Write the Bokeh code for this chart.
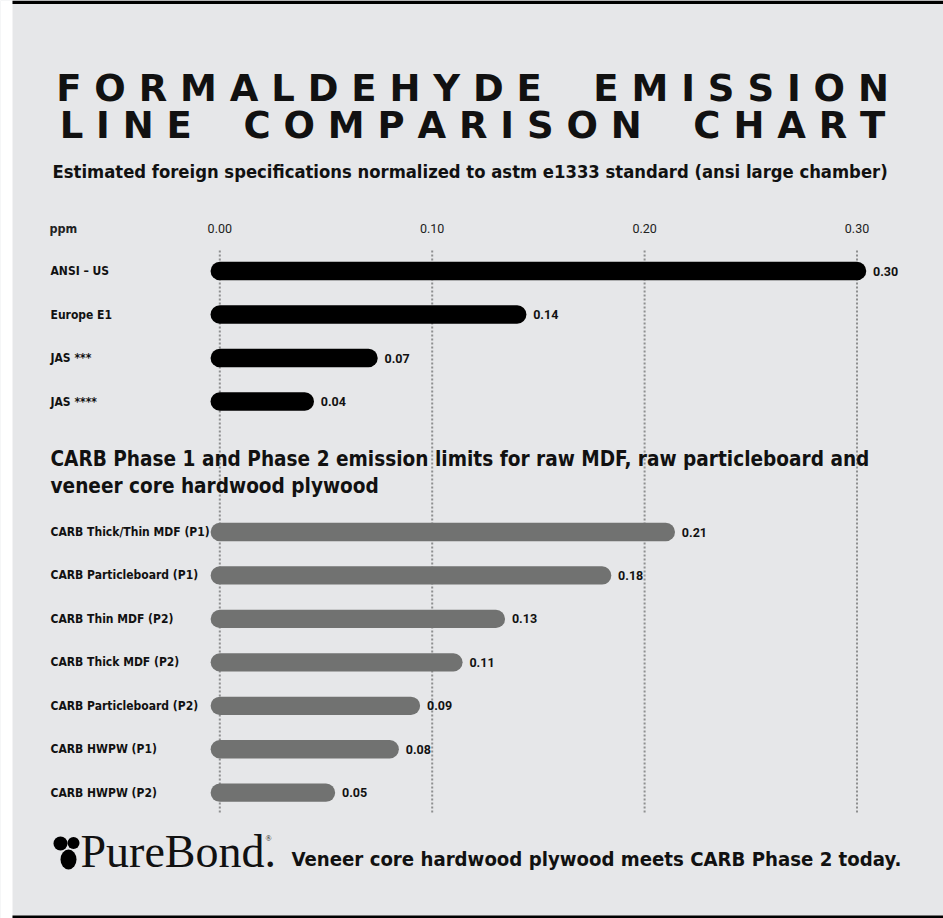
from bokeh.plotting import figure
from bokeh.models import Range1d
from bokeh.core.properties import value
from bokeh.embed import file_html
from bokeh.resources import INLINE

# ---------------- data ----------------
us_categories = ["ANSI – US", "Europe E1", "JAS ***", "JAS ****"]
us_values = [0.30, 0.14, 0.07, 0.04]

carb_categories = [
    "CARB Thick/Thin MDF (P1)",
    "CARB Particleboard (P1)",
    "CARB Thin MDF (P2)",
    "CARB Thick MDF (P2)",
    "CARB Particleboard (P2)",
    "CARB HWPW (P1)",
    "CARB HWPW (P2)",
]
carb_values = [0.21, 0.18, 0.13, 0.11, 0.09, 0.08, 0.05]

tick_values = [0.00, 0.10, 0.20, 0.30]
tick_labels = ["0.00", "0.10", "0.20", "0.30"]
unit_label = "ppm"

title_lines = ["F O R M A L D E H Y D E \u00a0\u00a0\u00a0E M I S S I O N",
               "L I N E \u00a0\u00a0\u00a0C O M P A R I S O N \u00a0\u00a0\u00a0C H A R T"]
subtitle = "Estimated foreign specifications normalized to astm e1333 standard (ansi large chamber)"
carb_title = ["CARB Phase 1 and Phase 2 emission limits for raw MDF, raw particleboard and",
              "veneer core hardwood plywood"]
brand = "PureBond."
footer = "Veneer core hardwood plywood meets CARB Phase 2 today."

# ---------------- layout ----------------
W, H = 943, 918
X0 = 219.3               # pixel of value 0
PPU = 2124.0             # pixels per ppm


def xd(px):
    return (px - X0) / PPU


BG = "#e6e7e9"
COND = value("DejaVu Sans Condensed")
INK = "#111111"

p = figure(width=W, height=H,
           x_range=Range1d(xd(0), xd(W)),
           y_range=Range1d(H, 0),
           output_backend="svg", toolbar_location=None,
           x_axis_location=None, y_axis_location=None,
           min_border=0, background_fill_color=BG, border_fill_color=BG)
p.grid.visible = False
p.outline_line_color = None

# frame decorations
p.quad(left=[xd(0)], right=[xd(12)], top=[0], bottom=[H], fill_color="white", line_color=None)
p.quad(left=[xd(12), xd(12)], right=[xd(W), xd(W)], top=[0, 915], bottom=[3.5, H],
       fill_color="black", line_color=None)

# rows
us_y = [270.5 + i * 43.5 for i in range(len(us_categories))]
carb_y = [531.5 + i * 43.45 for i in range(len(carb_categories))]

# gridlines
p.segment(x0=tick_values, y0=[250] * len(tick_values), x1=tick_values, y1=[812] * len(tick_values),
          line_color="#8e8f90", line_width=2, line_dash="2 2")

# bars
p.segment(x0=[0] * len(us_values), y0=us_y, x1=us_values, y1=us_y,
          line_color="black", line_width=18.5, line_cap="round")
p.segment(x0=[0] * len(carb_values), y0=carb_y, x1=carb_values, y1=carb_y,
          line_color="#717271", line_width=18.3, line_cap="round")

# title
p.text(x=[xd(472)] * 2, y=[88, 125.3], text=title_lines,
       text_font=value("DejaVu Sans"), text_font_style="bold", text_font_size="37px",
       text_align="center", text_baseline="middle", text_color=INK)
p.text(x=[xd(52)], y=[170.5], text=[subtitle], text_font=COND, text_font_style="bold",
       text_font_size="18.3px", text_baseline="middle", text_color=INK)

# header row
p.text(x=[xd(49)], y=[228], text=[unit_label], text_font=COND, text_font_style="bold",
       text_font_size="12.5px", text_baseline="middle", text_color="#222222")
p.text(x=tick_values, y=[228] * len(tick_values), text=tick_labels, text_font=value("Roboto"),
       text_font_size="12.5px", text_align="center", text_baseline="middle", text_color="#222222")

# category labels
p.text(x=[xd(50)] * len(us_categories), y=us_y, text=us_categories, text_font=COND,
       text_font_style="bold", text_font_size="12px", text_baseline="middle", text_color=INK)
p.text(x=[xd(50)] * len(carb_categories), y=carb_y, text=carb_categories, text_font=COND,
       text_font_style="bold", text_font_size="12px", text_baseline="middle", text_color=INK)

# value labels
p.text(x=us_values, y=us_y, text=[f"{v:.2f}" for v in us_values], x_offset=16,
       text_font=value("Roboto"), text_font_style="bold", text_font_size="12.5px",
       text_baseline="middle", text_color=INK)
p.text(x=carb_values, y=carb_y, text=[f"{v:.2f}" for v in carb_values], x_offset=16,
       text_font=value("Roboto"), text_font_style="bold", text_font_size="12.5px",
       text_baseline="middle", text_color=INK)

# CARB section title
p.text(x=[xd(50)] * 2, y=[458.3, 485], text=carb_title, text_font=COND, text_font_style="bold",
       text_font_size="20.6px", text_baseline="middle", text_color=INK)

# footer logo
p.scatter(x=[xd(60), xd(73)], y=[843, 842.5], size=[14, 12], marker="circle",
          fill_color="black", line_color=None)
p.ellipse(x=[xd(68)], y=[859], width=[16], height=[20], width_units="screen", height_units="screen",
          fill_color="black", line_color=None)
p.text(x=[xd(80)], y=[851], text=[brand], text_font=value("Liberation Serif"),
       text_font_size="46px", text_baseline="middle", text_color=INK)
p.text(x=[xd(265)], y=[838], text=["®"], text_font=value("Liberation Serif"),
       text_font_size="8px", text_baseline="middle", text_color=INK)
p.text(x=[xd(291)], y=[858.5], text=[footer], text_font=COND, text_font_style="bold",
       text_font_size="20.2px", text_baseline="middle", text_color=INK)

open("out.html", "w").write(file_html(p, INLINE))
